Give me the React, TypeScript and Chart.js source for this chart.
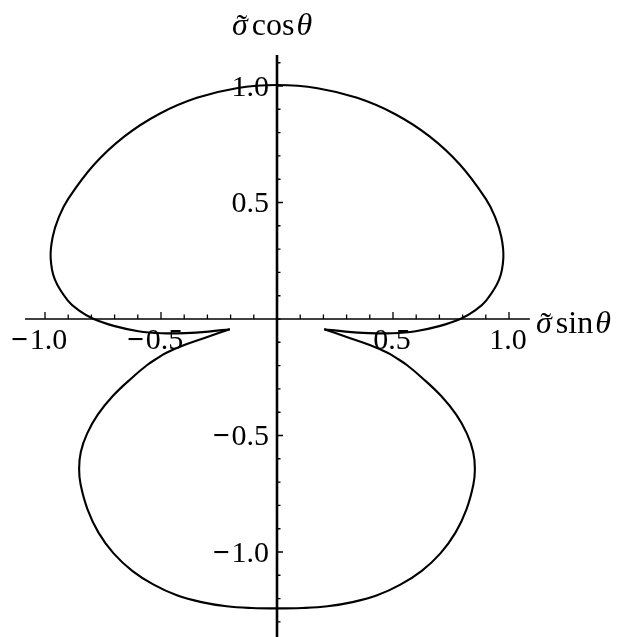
import React, { useEffect, useRef } from "react";
import { Chart, registerables } from "chart.js";

Chart.register(...registerables);

// σ̃ as a function of θ (degrees from the +vertical axis); the curve is
// symmetric about θ = 0, so each half-angle is drawn on both sides.
// Upper loop: θ = 0° (top) to the cusp.
const thetaUpper = [
  0, 10, 20, 30, 40, 50, 60, 65, 70, 75, 80, 85, 87.5, 90, 92.5, 95, 97, 98.7,
  100.4, 102.2,
];
const sigmaUpper = [
  1.004, 1.006, 1.01, 1.016, 1.023, 1.03, 1.037, 1.037, 1.029, 1.01, 0.972,
  0.905, 0.855, 0.79, 0.7, 0.6, 0.5, 0.4, 0.3, 0.208,
];
// Lower loop: from the cusp to θ = 180° (bottom).
const thetaLower = [
  102.2, 104.4, 105.6, 106.9, 108, 109.5, 112, 115, 118, 121, 124, 127, 130,
  135, 140, 145, 150, 155, 160, 165, 170, 175, 180,
];
const sigmaLower = [
  0.208, 0.31, 0.415, 0.498, 0.54, 0.595, 0.675, 0.78, 0.875, 0.955, 1.02,
  1.068, 1.105, 1.155, 1.197, 1.228, 1.248, 1.258, 1.262, 1.258, 1.252, 1.245,
  1.242,
];

// Axis ticks
const xMajorTicks = [-1, -0.5, 0.5, 1];
const xTickLabels = ["−1.0", "−0.5", "0.5", "1.0"];
const xMinorTicks = [
  -0.9, -0.8, -0.7, -0.6, -0.4, -0.3, -0.2, -0.1, 0.1, 0.2, 0.3, 0.4, 0.6,
  0.7, 0.8, 0.9,
];
const yMajorTicks = [1, 0.5, -0.5, -1];
const yTickLabels = ["1.0", "0.5", "−0.5", "−1.0"];
const yMinorTicks = [
  1.1, 0.9, 0.8, 0.7, 0.6, 0.4, 0.3, 0.2, 0.1, 0, -0.1, -0.2, -0.3, -0.4,
  -0.6, -0.7, -0.8, -0.9, -1.1, -1.2, -1.3,
];

// Visible extent of the two axis lines (data units)
const X_AXIS_FROM = -1.086;
const X_AXIS_TO = 1.09;
const Y_AXIS_FROM = -1.37;
const Y_AXIS_TO = 1.133;

// Scale ranges chosen so both axes share the same unit length
const X_MIN = -277 / 232;
const X_MAX = (622 - 277) / 232;
const Y_MIN = -(637 - 319) / 233;
const Y_MAX = 319 / 233;

const TICK_FONT = 30;
const TITLE_FONT = 32;
const SERIF = '"Liberation Serif", "Times New Roman", serif';
const MINUS_GAP = 2;

const rad = (d: number) => (d * Math.PI) / 180;

// Cartesian points (σ̃ sinθ, σ̃ cosθ) for one loop
function loopPoints(theta: number[], sigma: number[], fromTop: boolean) {
  const right = theta.map((t, i) => ({
    x: sigma[i] * Math.sin(rad(t)),
    y: sigma[i] * Math.cos(rad(t)),
  }));
  const left = right.map((p) => ({ x: -p.x, y: p.y }));
  if (fromTop) {
    // left side from the cusp up to θ = 0, then right side back to the cusp
    return [...left.slice().reverse(), ...right.slice(1)];
  }
  // right side from the cusp down to θ = 180°, then left side back to the cusp
  return [...right, ...left.slice(0, -1).reverse()];
}

// Number label with a heavier, slightly separated minus sign.
// For "center" the whole label is centred at x (shifted by dx);
// for "right" the label ends at x.
function drawNumber(
  ctx: CanvasRenderingContext2D,
  text: string,
  x: number,
  y: number,
  align: "center" | "right",
  dx = 0
) {
  const neg = text.startsWith("−");
  const digits = neg ? text.slice(1) : text;
  ctx.font = `${TICK_FONT}px ${SERIF}`;
  const dw = ctx.measureText(digits).width;
  ctx.font = `bold ${TICK_FONT}px ${SERIF}`;
  const mw = neg ? ctx.measureText("−").width + MINUS_GAP : 0;
  const total = dw + mw;
  const left = align === "center" ? x - total / 2 + dx : x - total;
  ctx.textAlign = "left";
  if (neg) ctx.fillText("−", left, y);
  ctx.font = `${TICK_FONT}px ${SERIF}`;
  ctx.fillText(digits, left + mw, y);
}

function drawSigmaLabel(
  ctx: CanvasRenderingContext2D,
  x: number,
  baseline: number,
  fn: string
) {
  ctx.textAlign = "left";
  ctx.textBaseline = "alphabetic";
  ctx.font = `italic ${TITLE_FONT}px ${SERIF}`;
  const sw = ctx.measureText("σ").width;
  ctx.fillText("σ", x, baseline);
  // tilde over the sigma
  ctx.font = `${TITLE_FONT}px ${SERIF}`;
  const tw = ctx.measureText("˜").width;
  ctx.fillText("˜", x + sw / 2 - tw / 2 + 2, baseline + 1);
  const fx = x + sw + 4;
  ctx.fillText(fn, fx, baseline);
  const tx = fx + ctx.measureText(fn).width + 2;
  ctx.font = `italic ${TITLE_FONT}px ${SERIF}`;
  ctx.fillText("θ", tx, baseline);
}

const crossAxes = {
  id: "crossAxes",
  beforeDatasetsDraw(chart: any) {
    const ctx: CanvasRenderingContext2D = chart.ctx;
    const xs = chart.scales.x;
    const ys = chart.scales.y;
    const ox = xs.getPixelForValue(0);
    const oy = ys.getPixelForValue(0);
    ctx.save();
    ctx.strokeStyle = "#000";
    ctx.fillStyle = "#000";

    // horizontal axis with upward ticks
    ctx.lineWidth = 1.3;
    ctx.beginPath();
    ctx.moveTo(xs.getPixelForValue(X_AXIS_FROM), oy);
    ctx.lineTo(xs.getPixelForValue(X_AXIS_TO), oy);
    ctx.stroke();
    ctx.beginPath();
    for (const v of xMajorTicks) {
      const px = xs.getPixelForValue(v);
      ctx.moveTo(px, oy);
      ctx.lineTo(px, oy - 7);
    }
    for (const v of xMinorTicks) {
      const px = xs.getPixelForValue(v);
      ctx.moveTo(px, oy);
      ctx.lineTo(px, oy - 4.5);
    }
    ctx.stroke();

    // vertical axis with ticks to the right
    ctx.lineWidth = 2.6;
    ctx.beginPath();
    ctx.moveTo(ox, ys.getPixelForValue(Y_AXIS_TO));
    ctx.lineTo(ox, ys.getPixelForValue(Y_AXIS_FROM));
    ctx.stroke();
    ctx.lineWidth = 1.4;
    ctx.beginPath();
    for (const v of yMajorTicks) {
      const py = ys.getPixelForValue(v);
      ctx.moveTo(ox, py);
      ctx.lineTo(ox + 6, py);
    }
    for (const v of yMinorTicks) {
      const py = ys.getPixelForValue(v);
      ctx.moveTo(ox, py);
      ctx.lineTo(ox + 3.5, py);
    }
    ctx.stroke();

    // tick labels
    ctx.textBaseline = "alphabetic";
    xMajorTicks.forEach((v, i) => {
      const label = xTickLabels[i];
      const dx = label.startsWith("−") ? -6 : -1;
      drawNumber(ctx, label, xs.getPixelForValue(v), oy + 30, "center", dx);
    });
    yMajorTicks.forEach((v, i) => {
      drawNumber(
        ctx,
        yTickLabels[i],
        ox - 8,
        ys.getPixelForValue(v) + 0.33 * TICK_FONT,
        "right"
      );
    });

    // axis titles
    drawSigmaLabel(ctx, 232, 35, "cos");
    drawSigmaLabel(ctx, 536, 333, "sin");
    ctx.restore();
  },
};

export default function App() {
  const ref = useRef<HTMLCanvasElement>(null);
  useEffect(() => {
    const line = {
      showLine: true,
      borderColor: "#000",
      borderWidth: 2.1,
      pointRadius: 0,
      tension: 0.4,
      fill: false,
    };
    const chart = new Chart(ref.current as HTMLCanvasElement, {
      type: "scatter",
      data: {
        datasets: [
          { ...line, data: loopPoints(thetaUpper, sigmaUpper, true) },
          { ...line, data: loopPoints(thetaLower, sigmaLower, false) },
        ],
      },
      options: {
        responsive: false,
        animation: false,
        devicePixelRatio: 1,
        events: [],
        layout: { padding: 0 },
        plugins: {
          legend: { display: false },
          tooltip: { enabled: false },
        },
        scales: {
          x: { type: "linear", min: X_MIN, max: X_MAX, display: false },
          y: { type: "linear", min: Y_MIN, max: Y_MAX, display: false },
        },
      },
      plugins: [crossAxes],
    } as any);
    return () => chart.destroy();
  }, []);
  return (
    <div
      style={{
        position: "fixed",
        left: 0,
        top: 0,
        width: 622,
        height: 637,
        background: "#fff",
      }}
    >
      <canvas ref={ref} width={622} height={637} style={{ display: "block" }} />
    </div>
  );
}
